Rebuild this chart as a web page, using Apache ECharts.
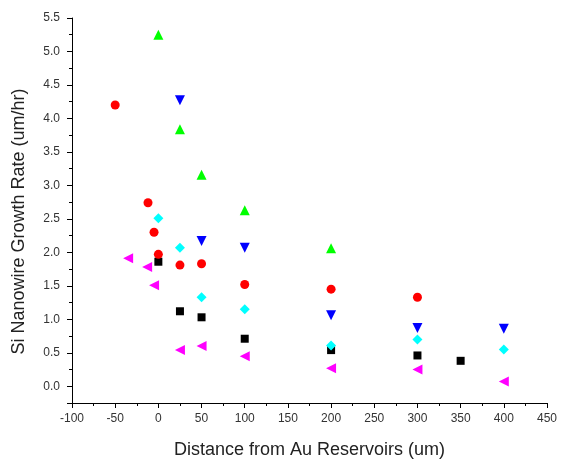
<!DOCTYPE html>
<html>
<head>
<meta charset="utf-8">
<script src="https://cdn.jsdelivr.net/npm/echarts@6/dist/echarts.min.js"></script>
<style>
html,body{margin:0;padding:0;background:#fff;}
#chart{width:561px;height:464px;}
</style>
</head>
<body>
<div id="chart"></div>
<script>
// Data (x: distance in um, y: growth rate in um/hr)
const blackSquares = [[0,1.86],[25,1.12],[50,1.03],[100,0.71],[200,0.54],[300,0.46],[350,0.38]];
const redCircles = [[-50,4.20],[-12,2.74],[-5,2.30],[0,1.97],[25,1.81],[50,1.83],[100,1.52],[200,1.45],[300,1.33]];
const greenUp = [[0,5.25],[25,3.84],[50,3.16],[100,2.63],[200,2.06]];
const blueDown = [[25,4.27],[50,2.17],[100,2.07],[200,1.06],[300,0.87],[400,0.86]];
const cyanDiamonds = [[0,2.51],[25,2.07],[50,1.33],[100,1.15],[200,0.61],[300,0.70],[400,0.55]];
const magentaLeft = [[-35,1.91],[-13,1.78],[-5,1.51],[25,0.54],[50,0.60],[100,0.45],[200,0.27],[300,0.25],[400,0.07]];

const xRange = [-100, 450];   // ticks every 50
const yRange = [-0.25, 5.5];  // labelled ticks every 0.5
const xTitle = 'Distance from Au Reservoirs (um)';
const yTitle = 'Si Nanowire Growth Rate (um/hr)';

const chart = echarts.init(document.getElementById('chart'), null, {renderer:'canvas'});
const fontFamily = '"Liberation Sans", Arial, sans-serif';
const labelStyle = {color:'#333', fontSize:12, fontFamily};

function sc(data, symbol, color, size, rotate){
  return {type:'scatter', data, symbol, symbolSize:size, symbolRotate:rotate||0,
    itemStyle:{color, opacity:1}, silent:true, animation:false};
}

chart.setOption({
  animation:false,
  backgroundColor:'#fff',
  grid:{left:72, right:14, top:18, bottom:61},
  xAxis:{
    type:'value', min:xRange[0], max:xRange[1], splitNumber:11, position:'bottom',
    name:xTitle, nameLocation:'middle', nameGap:38,
    nameTextStyle:{color:'#222', fontSize:18, fontFamily},
    axisLine:{show:true, onZero:false, lineStyle:{color:'#000', width:1}},
    axisTick:{show:true, inside:false, length:5, lineStyle:{color:'#000'}},
    minorTick:{show:true, splitNumber:2, length:3, lineStyle:{color:'#000'}},
    axisLabel:{...labelStyle, margin:10},
    splitLine:{show:false}, minorSplitLine:{show:false}
  },
  yAxis:{
    type:'value', min:yRange[0], max:yRange[1], splitNumber:11, position:'left',
    name:yTitle, nameLocation:'middle', nameGap:44, nameRotate:90,
    nameTextStyle:{color:'#222', fontSize:18, fontFamily, padding:[0,0,0,-22]},
    axisLine:{show:true, onZero:false, lineStyle:{color:'#000', width:1}},
    axisTick:{show:true, inside:false, length:5, lineStyle:{color:'#000'}},
    minorTick:{show:true, splitNumber:2, length:3, lineStyle:{color:'#000'}},
    axisLabel:{...labelStyle, margin:12,
      formatter:v=>{ const r=Math.round(v*100); return (r%50===0 && r>=0) ? Number(v).toFixed(1) : ''; }},
    splitLine:{show:false}, minorSplitLine:{show:false}
  },
  series:[
    sc(blackSquares,'rect','#000000',8),
    sc(redCircles,'circle','#ff0000',9),
    sc(greenUp,'triangle','#00ff00',10),
    sc(blueDown,'triangle','#0000ff',10,180),
    sc(cyanDiamonds,'diamond','#00ffff',10),
    sc(magentaLeft,'triangle','#ff00ff',10,90)
  ]
});
</script>
</body>
</html>
